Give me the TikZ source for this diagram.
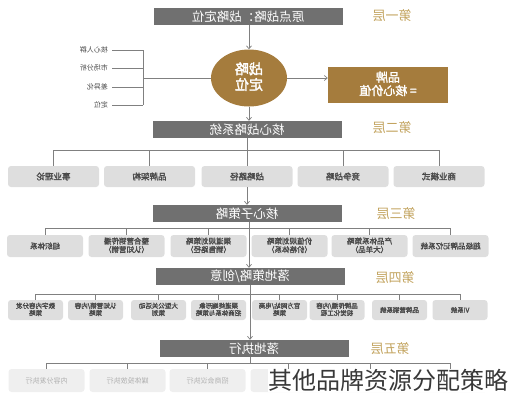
\documentclass[tikz,border=0pt]{standalone}
\usepackage{fontspec}
\setmainfont{Noto Sans CJK SC}[BoldFont={Noto Sans CJK SC},BoldFeatures={FakeBold=2}]
\usetikzlibrary{shapes.geometric,arrows.meta}
\definecolor{barg}{HTML}{707070}
\definecolor{boxg}{HTML}{DEDEDE}
\definecolor{boxt}{HTML}{4A4A4A}
\definecolor{paleg}{HTML}{EFEFEF}
\definecolor{palet}{HTML}{B0B0B0}
\definecolor{lineg}{HTML}{808080}
\definecolor{gold}{HTML}{C2A35E}
\definecolor{brown}{HTML}{A57C3D}
\newcommand{\mir}[1]{\scalebox{-1}[1]{#1}}
\newcommand{\mtwo}[2]{\scalebox{-1}[1]{\begin{tabular}{@{}c@{}}#1\\#2\end{tabular}}}
\begin{document}
\begin{tikzpicture}[x=1pt,y=-1pt,
  bar/.style={fill=barg,text=white,minimum width=189pt,minimum height=17pt,inner sep=0pt,font=\fontsize{12.5}{13}\selectfont},
  layer/.style={text=gold,font=\fontsize{13}{14}\selectfont},
  gbox/.style={fill=boxg,rounded corners=3pt,text=boxt,inner sep=0pt},
  pbox/.style={fill=paleg,rounded corners=3pt,text=palet,inner sep=0pt,minimum width=76pt,minimum height=23pt,font=\fontsize{7}{7.5}\selectfont},
  lbl/.style={text=boxt,inner sep=0pt,anchor=east,font=\fontsize{7}{8}\selectfont},
  ln/.style={draw=lineg,line width=0.7pt},
  arr/.style={ln,-{Straight Barb[length=3pt,width=5pt]}}]
\useasboundingbox (0,0) rectangle (527,400);
\renewcommand{\arraystretch}{0.85}
% layer 1
\node[bar] (bar1) at (248,16.5) {\mir{原点战略：战略定位}};
\node[layer] (lay1) at (392,16) {\mir{第一层}};
\node[ellipse,fill=brown,text=white,minimum width=76pt,minimum height=57pt,inner sep=0pt,font=\fontsize{14}{15}\selectfont\bfseries] (ell) at (249,78) {\mtwo{战略}{定位}};
\node[fill=brown,text=white,minimum width=120pt,minimum height=36pt,inner sep=0pt,font=\fontsize{12}{13}\selectfont\bfseries] (val) at (388,85) {\mtwo{品牌}{= 核心价值}};
\node[lbl] (l1) at (108,50) {\mir{核心人群}};
\node[lbl] (l2) at (108,68) {\mir{市场分析}};
\node[lbl] (l3) at (108,87) {\mir{差异化}};
\node[lbl] (l4) at (108,105) {\mir{定位}};
\coordinate (brk) at (143,78);
\foreach \i in {1,...,4}{\draw[ln] ([xshift=4pt]l\i.east) -- (l\i.east -| brk);}
\draw[ln] (l1.east -| brk) -- (l4.east -| brk);
\draw[ln] (brk) -- (ell.west);
\draw[arr] (bar1.south -| ell.north) -- (ell.north);
\draw[arr] (ell.east) -- (val.west |- ell.east);
% layer 2
\node[bar] (bar2) at (247,129.5) {\mir{核心战略系统}};
\node[layer] (lay2) at (392,128) {\mir{第二层}};
\draw[arr] (ell.south) -- (ell.south |- bar2.north);
\begin{scope}[every node/.style={gbox,minimum width=91pt,minimum height=21pt,font=\fontsize{8.5}{9}\selectfont\bfseries}]
\node (b2a) at (53.5,176.5) {\mir{事业理论}};
\node (b2b) at (149.5,176.5) {\mir{品牌架构}};
\node (b2c) at (247,176.5) {\mir{战略路径}};
\node (b2d) at (343,176.5) {\mir{竞争战略}};
\node (b2e) at (439,176.5) {\mir{商业模式}};
\end{scope}
\coordinate (h2) at (247,150);
\draw[ln] (bar2.south) -- (b2c.north);
\draw[ln] (b2a.north |- h2) -- (b2e.north |- h2);
\foreach \n in {b2a,b2b,b2d,b2e}{\draw[ln] (\n.north |- h2) -- (\n.north);}
% layer 3
\node[bar] (bar3) at (247,213.5) {\mir{核心子策略}};
\node[layer] (lay3) at (396,214) {\mir{第三层}};
\draw[arr] (b2c.south) -- (bar3.north);
\begin{scope}[every node/.style={gbox,minimum width=76pt,minimum height=22pt,font=\fontsize{7.5}{8}\selectfont\bfseries}]
\node (b3a) at (45,246) {\mir{组织体系}};
\node (b3b) at (126.5,246) {\mtwo{整合营销传播}{（认知营销）}};
\node (b3c) at (208.5,246) {\mtwo{渠道规划策略}{（销售路径）}};
\node (b3d) at (289.5,246) {\mtwo{价值规划策略}{（价格体系）}};
\node (b3e) at (369.5,246) {\mtwo{产品体系策略}{（大单品）}};
\node (b3f) at (450.5,246) {\mir{超级品牌记忆系统}};
\end{scope}
\coordinate (h3) at (249,228);
\draw[ln] (b3a.north |- h3) -- (b3f.north |- h3);
\foreach \n in {b3a,b3b,b3c,b3d,b3e,b3f}{\draw[ln] (\n.north |- h3) -- (\n.north);}
% layer 4
\node[bar] (bar4) at (250,276.5) {\mir{落地策略/创意}};
\node[layer] (lay4) at (395,278) {\mir{第四层}};
\draw[arr] (bar3.south -| h3) -- (h3 |- bar4.north);
\begin{scope}[every node/.style={gbox,minimum width=55pt,minimum height=20pt,font=\fontsize{6.5}{7}\selectfont\bfseries}]
\node (b4a) at (35.5,310) {\mtwo{数字内容分发}{策略}};
\node (b4b) at (95.5,310) {\mtwo{认知营销/内容}{策略}};
\node (b4c) at (158.5,310) {\mtwo{大型公关活动}{策划}};
\node (b4d) at (218.5,310) {\mtwo{渠道终端形象}{招商体系与策略}};
\node (b4e) at (279.5,310) {\mtwo{官方网站/电商}{策略}};
\node (b4f) at (337,310) {\mtwo{品牌传播/内容}{视觉化工程}};
\node (b4g) at (399.5,310) {\mir{品牌营销系统}};
\node (b4h) at (460,310) {\mir{VI系统}};
\end{scope}
\coordinate (h4) at (250,294);
\draw[ln] (b4a.north |- h4) -- (b4h.north |- h4);
\foreach \n in {b4a,b4b,b4c,b4d,b4e,b4f,b4g,b4h}{\draw[ln] (\n.north |- h4) -- (\n.north);}
% layer 5
\node[bar] (bar5) at (254,348.5) {\mir{落地执行}};
\node[layer] (lay5) at (390,349) {\mir{第五层}};
\draw[arr] (bar4.south -| h4) -- (h4 |- bar5.north);
\node[pbox] (b5a) at (46.5,380.5) {\mir{内容分发执行}};
\node[pbox] (b5b) at (127.5,380.5) {\mir{媒体投放执行}};
\node[pbox] (b5c) at (207.5,380.5) {\mir{招商会议执行}};
\node[pbox] (b5d) at (288.5,380.5) {};
\node[pbox] (b5e) at (370,380.5) {};
\node[pbox] (b5f) at (450,380.5) {};
\coordinate (h5) at (250,363);
\draw[ln] (bar5.south -| h5) -- (h5);
\draw[ln] (b5a.north |- h5) -- (b5f.north |- h5);
\foreach \n in {b5a,b5b,b5c,b5d,b5e,b5f}{\draw[ln] (\n.north |- h5) -- (\n.north);}
% overlay caption
\node[fill=white,text=black!78,inner sep=0pt,font=\fontsize{24}{26}\selectfont] (cap) at (388,380.5) {其他品牌资源分配策略};
\end{tikzpicture}
\end{document}
